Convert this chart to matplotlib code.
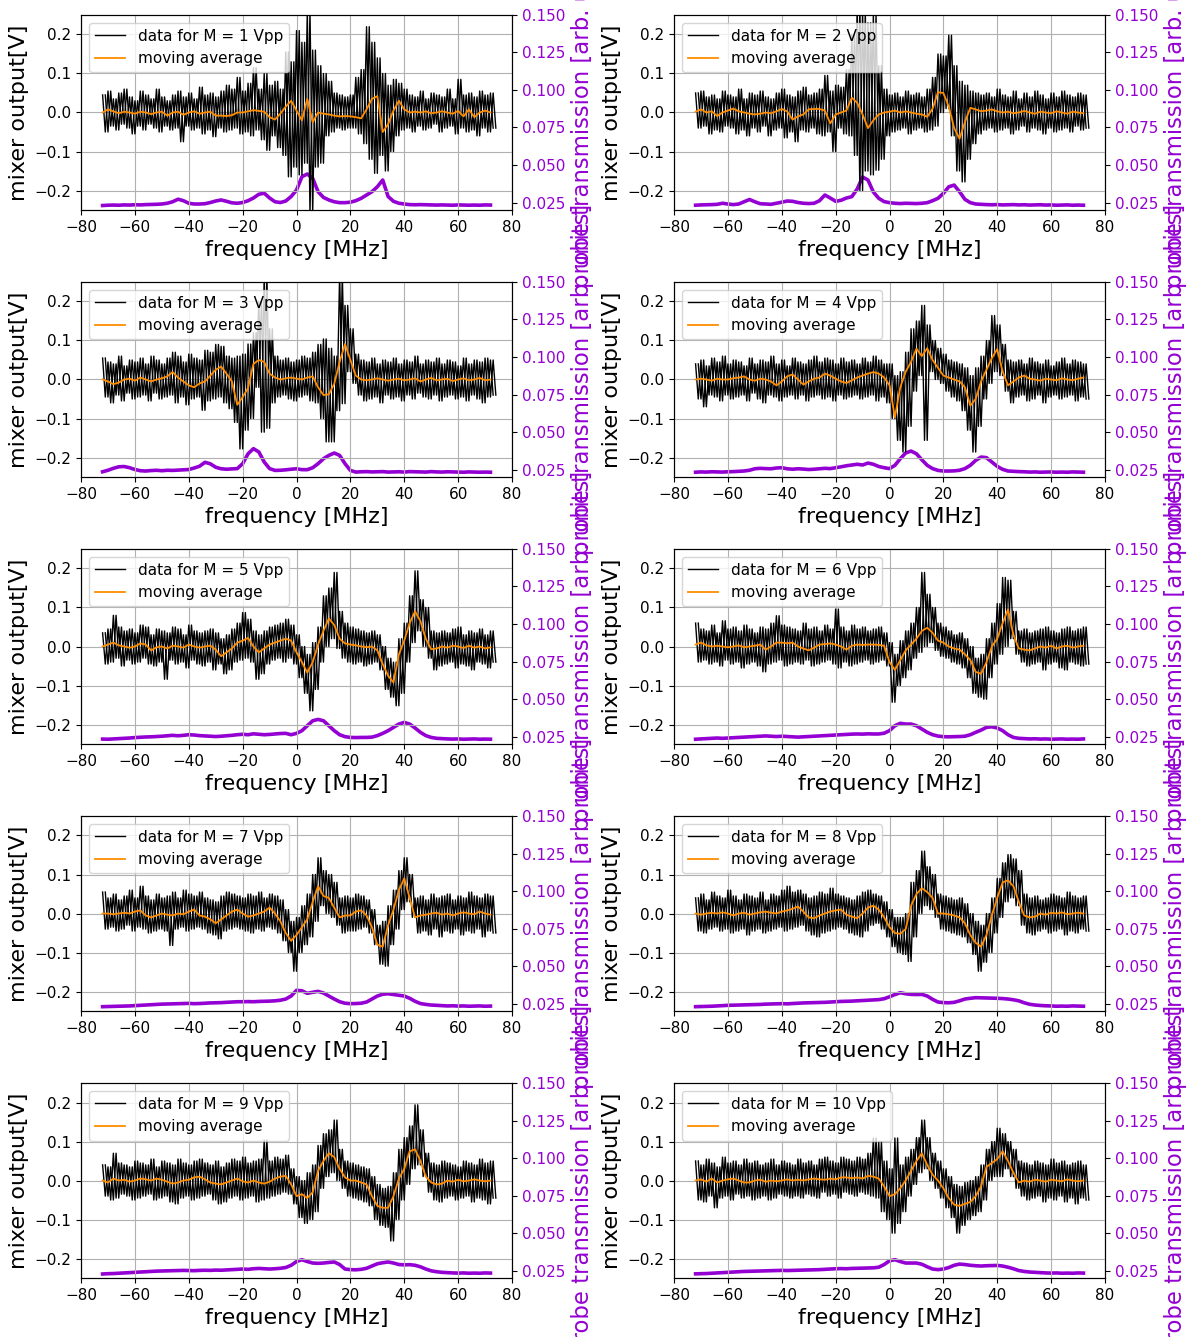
import matplotlib

matplotlib.use("Agg")

import matplotlib.pyplot as plt
import numpy as np

TICK_SIZE = 11
LABEL_SIZE = 16
LEGEND_SIZE = 11

# frequency grid of the traces [MHz], one bin every 2 MHz
FREQ = np.arange(-72, 73, 2)

# per panel: moving average, upper / lower excursion of the raw mixer trace
# in each bin [mV], and probe transmission [1e-4 arb. units]
avg_1 = [0, 8, 3, -2, 2, 0, -3, 2, 0, -4, 0, 2, -8, 0, 2, -6, 0, 3,
         -3, 0, 2, -8, -8, -9, -7, 0, 0, 3, 6, 4, 2, -12, -18, -3, 15, 30,
         5, -20, 35, -25, 0, -3, -5, -8, -10, -9, -10, -12, -15, 8, 35, 42, -50, -30,
         5, 30, 8, 0, 2, 0, 3, -2, 0, 3, 0, -3, 4, -10, 8, -12, 0, 5, 0]
hi_1 = [45, 55, 35, 50, 60, 40, 30, 55, 45, 35, 60, 40, 30, 45, 55, 40, 50, 35,
        65, 45, 50, 40, 55, 70, 60, 90, 55, 75, 115, 60, 100, 70, 80, 60, 155, 130,
        210, 180, 260, 160, 120, 100, 80, 50, 45, 40, 45, 90, 110, 220, 180, 140, 100, 70,
        85, 75, 60, 45, 40, 55, 35, 50, 45, 40, 60, 35, 85, 45, 50, 40, 55, 45, 50]
lo_1 = [-50, -35, -45, -30, -40, -55, -35, -45, -30, -40, -50, -35, -45, -40, -75, -35, -45, -40,
        -55, -45, -62, -40, -50, -45, -40, -55, -50, -60, -45, -70, -97, -60, -90, -110, -165, -140,
        -160, -130, -260, -140, -130, -60, -50, -40, -45, -40, -40, -55, -80, -120, -156, -110, -150, -100,
        -60, -45, -40, -50, -35, -45, -40, -30, -50, -40, -35, -55, -40, -50, -45, -60, -40, -50, -40]
probe_1 = [230, 232, 233, 232, 234, 233, 235, 234, 236, 237, 238, 240, 245, 255, 272, 262, 245, 240,
           240, 242, 250, 260, 267, 258, 248, 245, 250, 262, 280, 305, 312, 280, 255, 250, 260, 290,
           333, 422, 440, 411, 322, 284, 267, 255, 249, 249, 252, 262, 278, 300, 322, 355, 400, 290,
           258, 245, 240, 236, 235, 236, 235, 234, 233, 234, 233, 232, 234, 233, 232, 233, 232, 234, 233]

avg_2 = [2, 8, 0, 3, -9, 0, 5, 10, 3, 0, -3, -5, -3, 0, -2, 3, 9, 3,
         -18, -10, -5, 8, 9, 9, 5, -28, -5, 0, 5, 38, 25, -5, -40, -20, -5, 0,
         2, 5, 0, 3, 0, -3, -5, -11, 10, 52, 50, 15, -40, -67, -25, 12, 8, 3,
         5, 8, 3, 0, 2, -2, 0, 4, 0, -3, 2, 0, -2, 3, 0, -3, 2, 0, -2]
hi_2 = [50, 55, 40, 45, 35, 55, 45, 40, 60, 35, 50, 45, 55, 40, 35, 50, 60, 45,
        40, 55, 65, 45, 50, 60, 95, 55, 70, 65, 110, 200, 270, 260, 230, 250, 120, 60,
        45, 50, 40, 55, 45, 50, 40, 60, 90, 150, 145, 198, 120, 80, 70, 55, 50, 45,
        50, 40, 60, 45, 40, 55, 35, 50, 40, 55, 45, 35, 50, 40, 55, 45, 40, 50, 45]
lo_2 = [-40, -35, -55, -45, -50, -35, -40, -55, -45, -60, -40, -50, -35, -60, -45, -40, -65, -50,
        -75, -45, -50, -40, -55, -60, -50, -100, -40, -55, -60, -110, -200, -150, -160, -148, -120, -60,
        -50, -45, -40, -55, -45, -40, -50, -45, -35, 0, 10, -60, -150, -178, -120, -80, -55, -45,
        -40, -50, -45, -40, -55, -45, -35, -50, -40, -45, -55, -40, -50, -45, -40, -50, -35, -45, -40]
probe_2 = [232, 234, 235, 236, 238, 245, 240, 236, 240, 255, 270, 255, 242, 240, 238, 245, 252, 260,
           258, 250, 245, 243, 245, 262, 300, 280, 258, 265, 280, 289, 340, 420, 400, 320, 278, 256,
           249, 245, 243, 245, 244, 243, 245, 249, 262, 278, 311, 355, 366, 322, 271, 249, 240, 238,
           236, 235, 236, 234, 235, 236, 234, 235, 233, 234, 235, 233, 234, 232, 233, 234, 232, 233, 232]

avg_3 = [0, -5, -12, -8, 0, 2, -3, 5, 0, -5, 0, 3, 8, 19, 5, -5, -15, -20,
         -10, -5, 10, 25, 33, 15, -5, -65, -45, -22, 40, 50, 45, 15, 5, 0, 3, 5,
         2, 0, 5, 8, -20, -40, -38, -11, 45, 91, 50, 10, 0, -2, 0, 3, 0, -3,
         0, 2, -2, 0, 3, -5, 0, 4, -2, 0, 2, -4, 0, 3, -2, 0, 4, -2, 0]
hi_3 = [55, 45, 40, 60, 35, 50, 45, 55, 40, 60, 50, 40, 55, 70, 60, 45, 65, 55,
        50, 75, 70, 90, 85, 60, 55, 60, 65, 91, 120, 200, 270, 130, 60, 50, 55, 45,
        50, 60, 55, 70, 90, 104, 80, 60, 270, 190, 130, 65, 50, 45, 55, 40, 50, 45,
        55, 40, 50, 45, 60, 40, 50, 45, 55, 40, 50, 45, 35, 55, 40, 50, 45, 55, 50]
lo_3 = [-45, -60, -40, -55, -35, -50, -45, -40, -55, -35, -50, -45, -40, -60, -45, -65, -50, -45,
        -79, -55, -50, -45, -60, -75, -110, -178, -130, -100, -20, -135, -125, -60, -45, -40, -50, -55,
        -45, -40, -55, -60, -100, -160, -160, -80, -62, 20, -10, -40, -55, -50, -45, -60, -40, -50,
        -45, -55, -40, -50, -35, -45, -50, -40, -55, -45, -40, -50, -45, -55, -40, -50, -60, -45, -40]
probe_3 = [235, 245, 258, 268, 270, 262, 250, 242, 240, 243, 245, 242, 245, 244, 246, 248, 250, 260,
           272, 298, 288, 265, 255, 252, 254, 256, 289, 355, 389, 367, 300, 256, 244, 245, 248, 252,
           255, 249, 249, 262, 289, 322, 344, 360, 344, 289, 244, 233, 235, 236, 234, 235, 236, 233,
           234, 235, 233, 236, 235, 234, 233, 236, 234, 233, 235, 234, 233, 232, 234, 233, 232, 233, 232]

avg_4 = [0, 2, 0, -3, 2, 0, 0, 3, 5, 8, 0, -3, 2, 0, -5, -15, -5, 8,
         13, 0, -13, -5, 2, 5, 15, 10, 2, -5, -9, -2, 5, 10, 15, 19, 15, 5,
         -15, -97, -20, 20, 45, 79, 60, 80, 50, 30, 10, 5, 0, -5, -20, -67, -50, -5,
         25, 55, 78, 20, -15, -5, 5, 10, 2, 0, -3, 2, 0, -2, 3, 0, -2, 2, 5]
hi_4 = [40, 50, 35, 55, 45, 60, 40, 50, 45, 35, 55, 40, 50, 45, 60, 40, 50, 35,
        55, 45, 40, 50, 60, 45, 55, 50, 40, 55, 45, 50, 40, 55, 45, 60, 50, 40,
        40, 10, 20, 70, 130, 150, 190, 140, 100, 80, 65, 50, 45, 40, 30, 10, 30, 60,
        100, 164, 140, 90, 50, 45, 50, 40, 55, 45, 40, 50, 35, 45, 55, 40, 50, 45, 40]
lo_4 = [-50, -70, -40, -45, -55, -40, -50, -45, -40, -55, -35, -50, -60, -40, -45, -55, -45, -40,
        -50, -40, -55, -45, -40, -50, -45, -55, -40, -50, -45, -40, -50, -45, -40, -55, -45, -60,
        -100, -156, -186, -120, -30, 10, -156, 20, 0, -10, -30, -45, -55, -80, -130, -186, -120, -50,
        -10, 20, 10, -30, -60, -45, -40, -55, -50, -40, -60, -45, -40, -50, -45, -40, -55, -45, -50]
probe_4 = [232, 234, 233, 235, 234, 233, 235, 236, 238, 240, 245, 255, 258, 256, 255, 260, 262, 255,
           252, 255, 253, 250, 252, 255, 258, 256, 262, 268, 275, 280, 285, 280, 293, 285, 270, 262,
           256, 278, 322, 360, 373, 355, 315, 278, 256, 244, 240, 240, 241, 245, 256, 278, 311, 333,
           329, 300, 271, 251, 240, 238, 236, 235, 233, 234, 232, 233, 234, 232, 233, 232, 234, 233, 232]

avg_5 = [0, 5, 10, 3, 0, -3, 0, 8, 5, -10, -2, 0, -5, 2, 0, -3, 5, 0,
         -3, 0, 2, -8, -25, -15, -5, 10, 15, 22, 0, -15, -5, 5, 10, 15, 20, 15,
         -15, -40, -67, -40, 5, 40, 72, 55, 20, 8, 5, 3, 0, -2, 0, -10, -45, -75,
         -92, -20, 15, 60, 90, 65, 20, -7, -5, 0, -3, 2, 0, -4, 2, -3, 0, -5, -2]
hi_5 = [35, 45, 80, 50, 40, 45, 35, 55, 50, 30, 45, 40, 35, 50, 45, 30, 55, 40,
        35, 40, 45, 35, 20, 30, 45, 60, 87, 70, 40, 30, 40, 50, 55, 60, 70, 55,
        30, 0, -20, 10, 50, 130, 150, 190, 90, 60, 50, 45, 40, 35, 40, 30, 0, -30,
        -40, 20, 60, 130, 194, 120, 100, 40, 35, 40, 35, 45, 50, 30, 40, 35, 45, 30, 40]
lo_5 = [-45, -40, -30, -50, -35, -45, -40, -30, -45, -50, -40, -84, -35, -45, -40, -55, -35, -45,
        -50, -40, -60, -45, -70, -60, -40, -35, -30, -40, -84, -70, -45, -35, -30, -40, -30, -45,
        -80, -120, -165, -110, -40, 0, 20, -5, -30, -40, -45, -40, -50, -45, -40, -60, -110, -130,
        -152, -120, -40, 10, 40, 0, -30, -60, -50, -45, -40, -55, -45, -50, -60, -40, -45, -55, -40]
probe_5 = [233, 232, 234, 236, 238, 240, 243, 245, 247, 248, 250, 252, 255, 258, 255, 258, 262, 260,
           256, 254, 252, 250, 252, 255, 258, 262, 265, 262, 268, 265, 262, 264, 267, 270, 271, 262,
           271, 289, 322, 355, 364, 355, 322, 289, 262, 249, 244, 243, 244, 244, 246, 256, 271, 289,
           311, 333, 344, 333, 307, 278, 256, 244, 238, 236, 234, 233, 234, 232, 233, 234, 232, 233, 232]

avg_6 = [5, 10, 3, 0, 2, 0, -2, 0, 3, -2, 0, 2, 5, -8, 0, 10, 10, 8,
         10, 0, -5, -10, -3, 5, 6, 8, 5, 0, -8, 2, 5, 4, 5, 5, 4, 2,
         -40, -60, -35, -10, 5, 20, 40, 48, 35, 15, 10, 0, -5, -8, -20, -35, -65, -70,
         -40, 0, 20, 60, 95, 30, -5, -8, -10, -5, 0, -3, 2, -5, 0, 2, -3, 0, 2]
hi_6 = [60, 45, 40, 55, 35, 66, 45, 50, 40, 55, 45, 35, 50, 45, 60, 79, 55, 50,
        45, 40, 60, 45, 50, 40, 55, 45, 96, 50, 40, 55, 45, 50, 40, 45, 50, 35,
        10, -20, 15, 40, 60, 100, 190, 134, 100, 60, 50, 40, 30, 35, 20, 0, -30, -20,
        20, 60, 110, 177, 170, 90, 40, 45, 35, 40, 45, 50, 40, 35, 45, 50, 40, 45, 50]
lo_6 = [-40, -35, -45, -40, -50, -35, -45, -40, -55, -45, -40, -50, -65, -45, -40, -35, -50, -45,
        -40, -45, -35, -50, -45, -40, -35, -45, -55, -40, -50, -45, -40, -35, -45, -40, -35, -50,
        -143, -100, -80, -60, -30, -15, 0, 10, -10, -25, -30, -40, -45, -55, -80, -120, -130, -135,
        -80, -45, -20, 0, 20, -20, -40, -50, -45, -40, -60, -45, -40, -55, -60, -40, -45, -50, -45]
probe_6 = [232, 234, 236, 238, 240, 238, 240, 242, 244, 246, 248, 250, 252, 254, 252, 250, 252, 250,
           248, 246, 248, 250, 252, 254, 256, 258, 260, 262, 264, 266, 267, 266, 268, 267, 267, 272,
           289, 322, 338, 333, 333, 322, 300, 278, 262, 253, 249, 248, 249, 250, 252, 262, 278, 293,
           311, 315, 307, 289, 262, 244, 238, 236, 234, 235, 233, 234, 232, 233, 234, 232, 233, 232, 234]

avg_7 = [0, 0, -2, 0, 2, 0, 5, 8, -5, -10, -5, 0, -3, -5, 0, -2, 5, 10,
         -5, -8, -15, -25, -15, -5, 5, 10, 0, -8, -5, 0, 5, 15, 0, -20, -50, -70,
         -55, -35, -15, 30, 70, 45, 40, 15, -10, -5, -5, 5, 8, -5, -35, -80, -85, -30,
         10, 60, 90, 40, -10, -5, -3, 0, 2, -3, 0, -5, 0, 3, 0, -2, 5, 0, -3]
hi_7 = [55, 40, 50, 35, 45, 60, 40, 70, 45, 35, 50, 40, 45, 55, 40, 60, 50, 45,
        55, 40, 35, 30, 45, 55, 50, 45, 40, 50, 45, 55, 40, 50, 45, 35, 10, -20,
        -10, 20, 50, 100, 143, 110, 100, 80, 40, 45, 40, 50, 45, 35, 10, -30, -20, 20,
        60, 110, 143, 100, 40, 45, 35, 50, 40, 45, 50, 35, 45, 40, 55, 45, 40, 50, 45]
lo_7 = [-40, -35, -45, -40, -30, -45, -35, -40, -50, -45, -40, -45, -82, -40, -35, -45, -40, -35,
        -40, -50, -55, -65, -45, -40, -35, -40, -45, -50, -40, -45, -35, -40, -50, -70, -100, -148,
        -100, -80, -60, -20, 20, 0, -10, -30, -50, -45, -45, -40, -35, -50, -80, -130, -135, -80,
        -40, 10, 30, -10, -50, -45, -55, -40, -60, -45, -50, -40, -55, -45, -50, -40, -60, -45, -50]
probe_7 = [229, 230, 231, 232, 233, 234, 236, 238, 240, 242, 244, 246, 247, 248, 249, 250, 251, 249,
           250, 252, 254, 255, 256, 258, 260, 262, 262, 263, 262, 264, 265, 266, 268, 272, 280, 300,
           338, 335, 318, 325, 331, 320, 300, 280, 262, 252, 249, 250, 252, 260, 280, 300, 312, 315,
           310, 305, 300, 285, 265, 250, 244, 240, 238, 236, 234, 235, 233, 234, 232, 233, 234, 232, 233]

avg_8 = [0, -3, 0, 2, 0, 3, 0, -5, 0, 2, -3, 0, 3, 5, 2, 0, 5, 8,
         12, 18, 5, -10, -12, -5, 0, 5, 8, 10, -3, -8, -12, 0, 15, 20, 10, -10,
         -35, -50, -52, -40, 20, 50, 65, 55, 40, 0, 0, -2, -5, -10, -25, -55, -75, -85,
         -55, -5, 40, 80, 85, 70, 30, -5, -10, -8, 0, -3, 2, 0, 3, -2, 0, 2, 0]
hi_8 = [40, 50, 35, 55, 45, 40, 60, 45, 35, 50, 45, 40, 55, 35, 50, 45, 60, 70,
        55, 60, 50, 40, 45, 55, 50, 65, 50, 45, 40, 35, 45, 55, 60, 50, 45, 30,
        10, -10, -10, 0, 80, 110, 160, 120, 100, 50, 45, 40, 35, 40, 25, 0, -20, -30,
        0, 40, 90, 130, 151, 140, 110, 50, 40, 45, 35, 40, 50, 45, 40, 55, 45, 40, 45]
lo_8 = [-45, -50, -40, -35, -45, -40, -50, -45, -40, -55, -45, -40, -50, -45, -40, -35, -45, -40,
        -35, -30, -45, -55, -60, -50, -45, -40, -35, -40, -50, -55, -60, -45, -30, -25, -40, -60,
        -85, -100, -105, -123, -60, 0, 20, 10, -10, -40, -45, -50, -55, -60, -75, -105, -148, -125,
        -100, -50, -10, 30, 40, 20, -30, -50, -55, -45, -40, -50, -45, -40, -55, -45, -50, -40, -45]
probe_8 = [229, 230, 231, 232, 234, 236, 238, 239, 240, 241, 242, 243, 244, 246, 247, 248, 249, 248,
           250, 252, 254, 255, 256, 257, 258, 260, 262, 264, 265, 266, 268, 270, 272, 274, 276, 282,
           295, 310, 322, 315, 311, 310, 311, 300, 278, 260, 256, 255, 258, 268, 280, 285, 289, 288,
           287, 286, 285, 283, 280, 275, 268, 255, 245, 240, 237, 235, 234, 232, 233, 232, 234, 233, 232]

avg_9 = [0, -5, 5, 0, 2, -3, 0, 5, 3, 0, 5, 2, -3, -8, -5, 0, 2, 8,
         10, 3, -5, -8, -10, -5, 0, 5, -2, -5, 0, -5, -8, -3, 5, 10, 12, -10,
         -40, -35, -45, -30, 25, 50, 70, 60, 30, 8, 0, 0, -5, -10, -40, -65, -70, -70,
         -40, 5, 30, 75, 80, 50, 10, -5, -10, -8, 0, -3, 2, -2, 0, 3, 0, -2, 0]
hi_9 = [40, 35, 70, 45, 40, 35, 50, 45, 40, 55, 35, 50, 45, 40, 55, 45, 40, 50,
        55, 45, 40, 50, 35, 45, 55, 50, 60, 45, 50, 55, 104, 50, 60, 55, 65, 30,
        10, 0, 20, 40, 90, 120, 130, 155, 80, 50, 45, 40, 35, 30, 10, -10, -20, -15,
        20, 80, 110, 140, 194, 130, 70, 45, 40, 50, 45, 40, 35, 50, 45, 40, 55, 45, 50]
lo_9 = [-40, -50, -45, -35, -40, -50, -45, -40, -35, -50, -45, -40, -55, -60, -45, -40, -50, -45,
        -40, -35, -50, -60, -55, -45, -40, -50, -45, -40, -55, -50, -45, -40, -35, -30, -35, -60,
        -95, -110, -100, -80, -20, 10, 20, 0, -20, -40, -45, -50, -55, -65, -100, -115, -120, -155,
        -100, -50, -10, 30, 40, 10, -30, -50, -55, -45, -40, -50, -45, -40, -55, -45, -50, -60, -45]
probe_9 = [227, 229, 230, 232, 234, 236, 238, 240, 242, 244, 246, 247, 248, 249, 250, 251, 250, 249,
           251, 252, 251, 253, 252, 254, 256, 258, 260, 258, 262, 264, 262, 260, 262, 265, 270, 285,
           310, 322, 310, 300, 298, 300, 304, 307, 290, 260, 256, 255, 258, 265, 280, 295, 302, 307,
           300, 290, 288, 289, 285, 275, 260, 248, 242, 238, 236, 234, 233, 234, 232, 233, 232, 234, 233]

avg_10 = [0, 3, -3, 5, -5, 0, 3, 5, 0, -5, -5, 0, 2, -3, 0, -2, 0, 3,
          0, 2, 0, 3, 5, 3, 2, 5, 3, 8, 8, 6, 8, 5, 12, 10, 5, -15,
          -40, -35, -20, 0, 25, 50, 70, 40, 15, 0, -20, -45, -62, -65, -60, -55, -40, -15,
          35, 45, 55, 75, 50, 20, -5, 0, -3, 2, 0, -3, 2, 0, -2, 3, 0, -2, 0]
hi_10 = [50, 40, 55, 45, 35, 60, 45, 50, 40, 55, 45, 50, 40, 45, 55, 40, 50, 45,
         40, 55, 45, 50, 40, 55, 60, 50, 45, 60, 55, 50, 60, 55, 70, 109, 100, 50,
         30, 109, 40, 60, 80, 110, 155, 110, 70, 50, 30, 10, -10, -15, -5, 0, 10, 40,
         80, 100, 134, 120, 100, 80, 50, 45, 40, 50, 45, 40, 55, 45, 50, 40, 45, 50, 40]
lo_10 = [-50, -55, -40, -70, -45, -40, -50, -35, -45, -40, -50, -45, -40, -50, -45, -35, -40, -45,
         -40, -45, -35, -40, -45, -30, -40, -35, -45, -30, -35, -40, -30, -35, -40, -45, -80, -100,
         -135, -110, -80, -40, -10, 20, 30, 0, -20, -45, -70, -95, -135, -115, -100, -90, -80, -50,
         0, 10, 10, 30, 10, -20, -40, -50, -45, -40, -55, -45, -50, -40, -55, -45, -60, -45, -50]
probe_10 = [228, 229, 230, 232, 234, 236, 238, 240, 242, 244, 245, 246, 247, 248, 249, 250, 251, 250,
            251, 252, 253, 254, 255, 256, 258, 260, 262, 263, 262, 264, 265, 266, 267, 268, 272, 290,
            315, 322, 310, 300, 300, 300, 292, 275, 260, 256, 260, 270, 285, 293, 290, 285, 282, 280,
            282, 283, 284, 280, 272, 262, 250, 244, 240, 238, 236, 234, 233, 234, 232, 233, 232, 234, 233]

MODULATION_VPP = [1, 2, 3, 4, 5, 6, 7, 8, 9, 10]
PANELS = [
    (avg_1, hi_1, lo_1, probe_1),
    (avg_2, hi_2, lo_2, probe_2),
    (avg_3, hi_3, lo_3, probe_3),
    (avg_4, hi_4, lo_4, probe_4),
    (avg_5, hi_5, lo_5, probe_5),
    (avg_6, hi_6, lo_6, probe_6),
    (avg_7, hi_7, lo_7, probe_7),
    (avg_8, hi_8, lo_8, probe_8),
    (avg_9, hi_9, lo_9, probe_9),
    (avg_10, hi_10, lo_10, probe_10),
]


def draw_panel(axis, m_vpp, avg, hi, lo, probe):
    # raw trace swings between the upper and lower excursion of each bin;
    # a second pass half a bin later fills the dense core of the noise band
    excursion_y = np.column_stack((hi, lo)).ravel() * 1e-3
    swing_x = np.column_stack((FREQ, FREQ + 1)).ravel()
    axis.plot(swing_x, excursion_y, color="black", linewidth=1.0,
              label=f"data for M = {m_vpp} Vpp")
    axis.plot(swing_x + 1, excursion_y, color="black", linewidth=1.0)
    axis.plot(FREQ, np.asarray(avg) * 1e-3, color="darkorange", linewidth=1.3,
              label="moving average")

    axis.set_xlim(-80, 80)
    axis.set_ylim(-0.25, 0.25)
    axis.set_xticks(np.arange(-80, 81, 20))
    axis.grid(True)
    axis.set_xlabel("frequency [MHz]", fontsize=LABEL_SIZE)
    axis.set_ylabel("mixer output[V]", fontsize=LABEL_SIZE)
    axis.tick_params(labelsize=TICK_SIZE)
    axis.legend(loc="upper left", fontsize=LEGEND_SIZE)

    twin = axis.twinx()
    twin.plot(FREQ, np.asarray(probe) * 1e-4, color="darkviolet", linewidth=2.6)
    twin.set_ylim(0.02, 0.15)
    twin.set_yticks([0.025, 0.05, 0.075, 0.1, 0.125, 0.15])
    twin.tick_params(axis="y", labelsize=TICK_SIZE, labelcolor="darkviolet")
    twin.set_ylabel("probe transmission [arb. units]", color="darkviolet",
                    fontsize=16.4)

    # keep the mixer trace above the transmission curve
    axis.set_zorder(twin.get_zorder() + 1)
    axis.patch.set_visible(False)


fig, axes = plt.subplots(5, 2, figsize=(11.92, 13.37), dpi=100)
fig.subplots_adjust(left=0.068, right=0.927, top=0.9888, bottom=0.0441,
                    wspace=0.376, hspace=0.369)

for axis, m_vpp, (avg, hi, lo, probe) in zip(axes.flat, MODULATION_VPP, PANELS):
    draw_panel(axis, m_vpp, avg, hi, lo, probe)

fig.savefig("out.png", dpi=100)
